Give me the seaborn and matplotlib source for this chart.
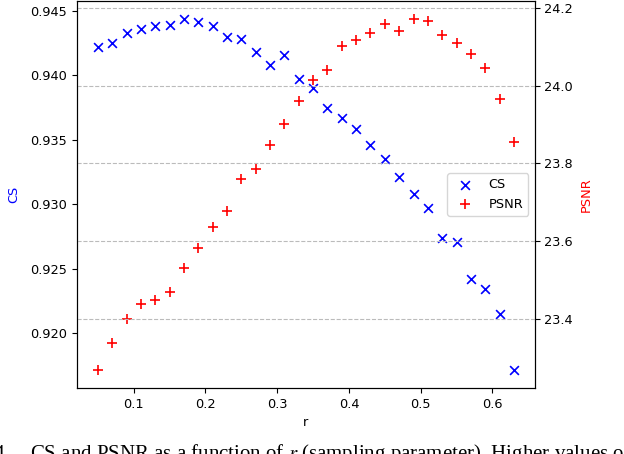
import matplotlib
matplotlib.use("Agg")
import matplotlib.pyplot as plt
import seaborn as sns
import numpy as np

# sampling parameter r and the two metrics
r = [0.05, 0.07, 0.09, 0.11, 0.13, 0.15, 0.17, 0.19, 0.21, 0.23,
     0.25, 0.27, 0.29, 0.31, 0.33, 0.35, 0.37, 0.39, 0.41, 0.43,
     0.45, 0.47, 0.49, 0.51, 0.53, 0.55, 0.57, 0.59, 0.61, 0.63]
cs = [0.9422, 0.9425, 0.9433, 0.9436, 0.9438, 0.9439, 0.9444, 0.9441, 0.9438, 0.9430,
      0.9428, 0.9418, 0.9408, 0.9416, 0.9397, 0.9390, 0.9375, 0.9367, 0.9358, 0.9346,
      0.9335, 0.9321, 0.9308, 0.9297, 0.9274, 0.9271, 0.9242, 0.9234, 0.9215, 0.9171]
psnr = [23.267, 23.337, 23.400, 23.439, 23.449, 23.470, 23.530, 23.581, 23.635, 23.678,
        23.761, 23.785, 23.847, 23.901, 23.960, 24.014, 24.040, 24.103, 24.118, 24.137,
        24.159, 24.142, 24.173, 24.167, 24.130, 24.109, 24.082, 24.045, 23.967, 23.855]

plt.rcParams['font.size'] = 9.3
plt.rcParams['mathtext.fontset'] = 'stix'

fig = plt.figure(figsize=(6.24, 4.54), dpi=100)
ax1 = fig.add_axes([0.1234, 0.1454, 0.7336, 0.8524])
ax2 = ax1.twinx()

sns.scatterplot(x=r, y=cs, marker='x', color='blue', s=40, linewidth=1.2, ax=ax1, label='CS', legend=False)
sns.scatterplot(x=r, y=psnr, marker='+', color='red', s=48, linewidth=1.2, ax=ax2, label='PSNR', legend=False)

ax1.set_xlabel("r")
ax1.set_ylabel("CS", color='blue', labelpad=7)
ax2.set_ylabel("PSNR", color='red', labelpad=5)
ax1.set_yticks([0.920, 0.925, 0.930, 0.935, 0.940, 0.945])
ax2.set_yticks([23.4, 23.6, 23.8, 24.0, 24.2])
ax2.grid(axis='y', linestyle='--', color='#bbbbbb', linewidth=0.8)

h1, l1 = ax1.get_legend_handles_labels()
h2, l2 = ax2.get_legend_handles_labels()
ax2.legend(h1 + h2, l1 + l2, loc='center right')

# figure caption, cropped at the bottom edge as in the source page
fig.text(10 / 624, -0.011, "Fig. 4.", family='Liberation Serif', fontsize=15,
         ha='right', va='baseline')
fig.text(30 / 624, -0.011, "CS and PSNR as a function of $r$ (sampling parameter). Higher values of",
         family='Liberation Serif', fontsize=15, ha='left', va='baseline')

fig.savefig("out.png", dpi=100)
